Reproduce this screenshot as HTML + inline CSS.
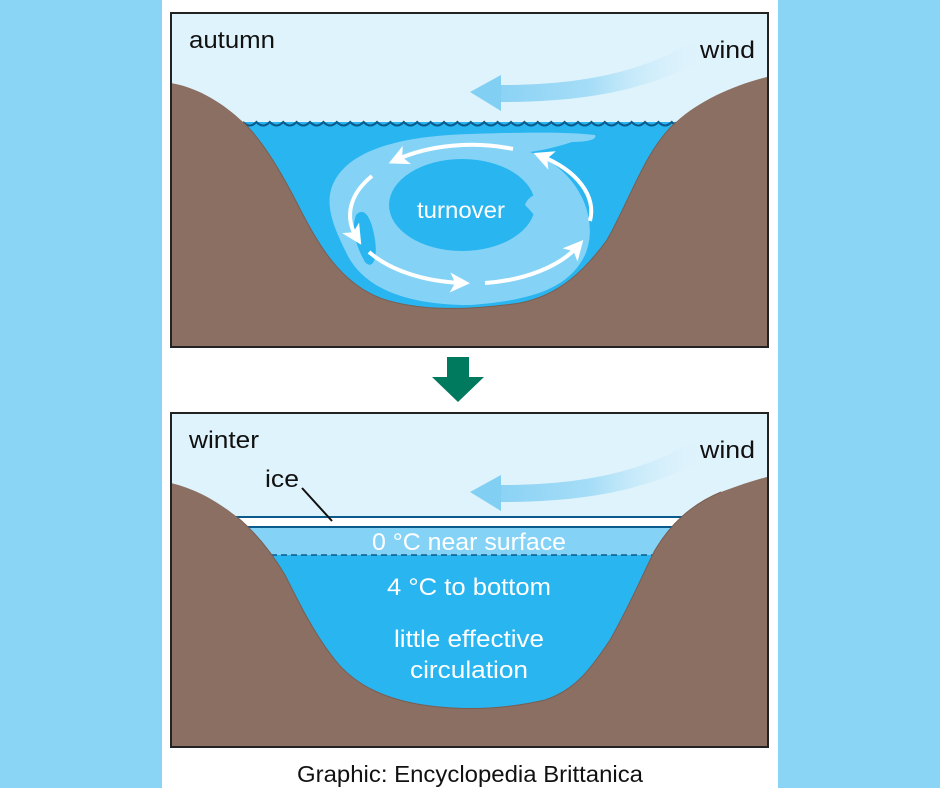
<!DOCTYPE html>
<html><head><meta charset="utf-8"><style>
html,body{margin:0;padding:0;background:#8ad4f5;}
svg{display:block;}
text{font-family:"Liberation Sans",sans-serif;}
</style></head><body>
<svg width="940" height="788" viewBox="0 0 940 788" xmlns="http://www.w3.org/2000/svg">
<defs>
<linearGradient id="wg" x1="470" y1="0" x2="712" y2="0" gradientUnits="userSpaceOnUse">
<stop offset="0" stop-color="#82cff4"/><stop offset="0.5" stop-color="#a6ddf7"/><stop offset="1" stop-color="#dff3fc" stop-opacity="0"/>
</linearGradient>
<marker id="ah" markerWidth="6" markerHeight="6" refX="3" refY="3" orient="auto" markerUnits="strokeWidth">
<path d="M0,0.5 L5,3 L0,5.5 L1.3,3 Z" fill="#fff"/>
</marker>
<clipPath id="wc"><rect x="171" y="122" width="597" height="225"/></clipPath>
</defs>
<rect x="0" y="0" width="940" height="788" fill="#8ad4f5"/>
<rect x="162" y="0" width="616" height="788" fill="#fff"/>

<!-- TOP PANEL -->
<rect x="171" y="13" width="597" height="334" fill="#dff3fc"/>
<rect x="171" y="122" width="597" height="225" fill="#29b5f0"/>
<g clip-path="url(#wc)">
<path d="M334,182 C350,150 400,136 470,134 C530,132 570,132 595,135 C598,140 585,142 572,142 C560,146 545,150 530,152 C580,170 600,220 585,255 C570,285 540,300 470,305 C400,305 360,285 345,250 C330,220 325,200 334,182 Z" fill="#84d3f7"/>
<ellipse cx="462" cy="205" rx="73" ry="46" fill="#29b5f0"/>
<path d="M525,205 C530,190 555,188 575,205 C590,220 585,245 565,255 C550,260 545,250 540,240 C545,230 540,220 525,205 Z" fill="#84d3f7"/>
<path d="M356,215 C365,205 372,220 375,240 C378,260 372,270 365,262 C358,250 350,230 356,215 Z" fill="#29b5f0"/>
</g>
<path d="M243,122 Q249.7,129 256.4,122 Q263.1,129 269.8,122 Q276.5,129 283.2,122 Q289.9,129 296.6,122 Q303.3,129 310,122 Q316.7,129 323.4,122 Q330.1,129 336.8,122 Q343.5,129 350.2,122 Q356.9,129 363.6,122 Q370.3,129 377,122 Q383.7,129 390.4,122 Q397.1,129 403.8,122 Q410.5,129 417.2,122 Q423.9,129 430.6,122 Q437.3,129 444,122 Q450.7,129 457.4,122 Q464.1,129 470.8,122 Q477.5,129 484.2,122 Q490.9,129 497.6,122 Q504.3,129 511,122 Q517.7,129 524.4,122 Q531.1,129 537.8,122 Q544.5,129 551.2,122 Q557.9,129 564.6,122 Q571.3,129 578,122 Q584.7,129 591.4,122 Q598.1,129 604.8,122 Q611.5,129 618.2,122 Q624.9,129 631.6,122 Q638.3,129 645,122 Q651.7,129 658.4,122 Q665.1,129 671.8,122 Q675,126 678,122" fill="none" stroke="#0b5a8c" stroke-width="2"/>
<path d="M171,83 C200,88 225,105 243,122 C262,140 280,170 298,205 C318,245 340,282 380,298 C420,312 470,310 520,303 C560,295 585,270 607,240 C630,200 645,150 676,122 C700,100 735,85 767,77 L767,347 L171,347 Z" fill="#8b6f62"/>
<path d="M243,122 C262,140 280,170 298,205 C318,245 340,282 380,298 C420,312 470,310 520,303 C560,295 585,270 607,240 C630,200 645,150 676,122" fill="none" stroke="#7a5e52" stroke-width="1"/>
<g fill="none" stroke="#fff" stroke-width="4" stroke-linecap="butt" marker-end="url(#ah)">
<path d="M513,149 A120 68 0 0 0 396,160"/>
<path d="M372,176 A120 68 0 0 0 357,238"/>
<path d="M369,252 A120 68 0 0 0 462,283"/>
<path d="M485,283 A120 68 0 0 0 578,246"/>
<path d="M590,221 A120 68 0 0 0 541,156"/>
</g>
<text x="461" y="218" font-size="23" fill="#fff" text-anchor="middle" textLength="88" lengthAdjust="spacingAndGlyphs">turnover</text>
<path d="M501,85 C600,85 660,65 708,32 L712,55 C660,85 600,102 501,102 Z" fill="url(#wg)"/>
<path d="M501,75 L470,92 L501,111 Z" fill="#82cff4"/>
<text x="189" y="48" font-size="24" fill="#111" textLength="86" lengthAdjust="spacingAndGlyphs">autumn</text>
<text x="700" y="58" font-size="24" fill="#111" textLength="55" lengthAdjust="spacingAndGlyphs">wind</text>
<rect x="171" y="13" width="597" height="334" fill="none" stroke="#222" stroke-width="2"/>

<!-- green arrow -->
<path d="M447,357 L469,357 L469,377 L484,377 L458,402 L432,377 L447,377 Z" fill="#007a5e"/>

<!-- BOTTOM PANEL -->
<rect x="171" y="413" width="597" height="334" fill="#dff3fc"/>
<rect x="171" y="517" width="597" height="10" fill="#fff"/>
<rect x="171" y="527" width="597" height="28" fill="#84d3f7"/>
<rect x="171" y="555" width="597" height="192" fill="#29b5f0"/>
<line x1="171" y1="517" x2="768" y2="517" stroke="#0b5a8c" stroke-width="2"/>
<line x1="171" y1="527" x2="768" y2="527" stroke="#0b5a8c" stroke-width="2"/>
<line x1="171" y1="555" x2="768" y2="555" stroke="#0b5a8c" stroke-width="1.5" stroke-dasharray="6,4"/>
<path d="M171,483 C200,490 222,505 237,517 C255,532 270,550 285,575 C300,605 315,635 335,660 C355,685 385,700 430,706 C470,711 510,708 545,700 C575,690 590,670 610,640 C630,605 640,580 655,550 C670,525 690,505 721,492 C740,485 755,480 767,477 L767,747 L171,747 Z" fill="#8b6f62"/>
<path d="M237,517 C255,532 270,550 285,575 C300,605 315,635 335,660 C355,685 385,700 430,706 C470,711 510,708 545,700 C575,690 590,670 610,640 C630,605 640,580 655,550 C670,525 690,505 721,492" fill="none" stroke="#7a5e52" stroke-width="1"/>
<line x1="302" y1="488" x2="332" y2="521" stroke="#111" stroke-width="2"/>
<path d="M501,485 C600,485 660,465 708,432 L712,455 C660,485 600,502 501,502 Z" fill="url(#wg)"/>
<path d="M501,475 L470,492 L501,511 Z" fill="#82cff4"/>
<text x="189" y="448" font-size="24" fill="#111" textLength="70" lengthAdjust="spacingAndGlyphs">winter</text>
<text x="700" y="458" font-size="24" fill="#111" textLength="55" lengthAdjust="spacingAndGlyphs">wind</text>
<text x="265" y="487" font-size="24" fill="#111" textLength="34" lengthAdjust="spacingAndGlyphs">ice</text>
<text x="469" y="550" font-size="24" fill="#fff" text-anchor="middle" textLength="194" lengthAdjust="spacingAndGlyphs">0 °C near surface</text>
<text x="469" y="595" font-size="24" fill="#fff" text-anchor="middle" textLength="164" lengthAdjust="spacingAndGlyphs">4 °C to bottom</text>
<text x="469" y="647" font-size="24" fill="#fff" text-anchor="middle" textLength="150" lengthAdjust="spacingAndGlyphs">little effective</text>
<text x="469" y="678" font-size="24" fill="#fff" text-anchor="middle" textLength="118" lengthAdjust="spacingAndGlyphs">circulation</text>
<rect x="171" y="413" width="597" height="334" fill="none" stroke="#222" stroke-width="2"/>

<text x="470" y="782" font-size="23" fill="#111" text-anchor="middle" textLength="346" lengthAdjust="spacingAndGlyphs">Graphic: Encyclopedia Brittanica</text>
</svg>
</body></html>
